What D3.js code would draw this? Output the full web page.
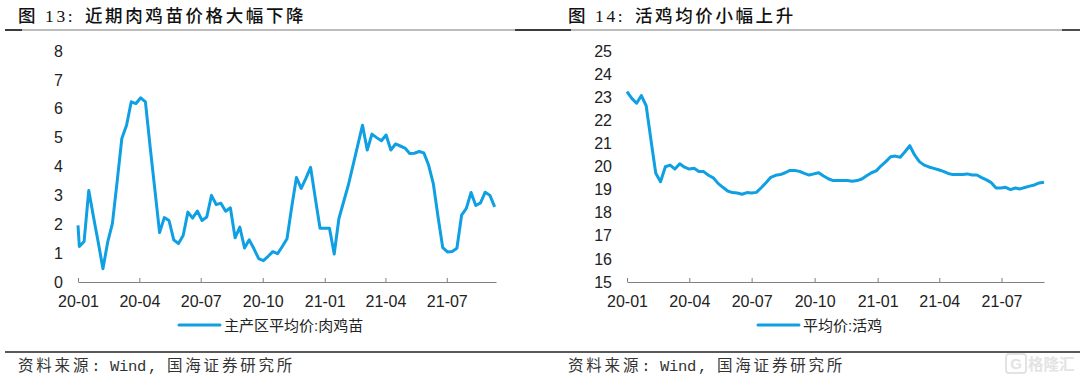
<!DOCTYPE html>
<html>
<head>
<meta charset="utf-8">
<script src="https://cdn.jsdelivr.net/npm/d3@7/dist/d3.min.js"></script>
<style>
  html, body { margin: 0; padding: 0; background: #fff; }
  svg { display: block; }
  .num { font-family: "Liberation Sans", Arial, sans-serif; font-size: 16px; fill: #222; }
  .legend { font-family: "Liberation Sans", "Noto Sans CJK SC", sans-serif; font-size: 15px; fill: #222; }
  .head { font-family: "Liberation Serif", "Noto Sans CJK SC", serif; font-size: 17.5px; font-weight: 500; letter-spacing: 2.6px; fill: #111; }
  .note { font-family: "Liberation Mono", "Noto Sans CJK SC", monospace; font-size: 15.5px; letter-spacing: 2.8px; fill: #333; }
</style>
</head>
<body>
<svg id="chart" width="1080" height="378"></svg>
<script>
const quarterTicks = ["2020-01-01", "2020-04-01", "2020-07-01", "2020-10-01", "2021-01-01", "2021-04-01", "2021-07-01"];

const chickTicks = [0, 1, 2, 3, 4, 5, 6, 7, 8];
const chickValues = [1.96,
  1.23, 1.40, 3.17, 2.25, 1.38, 0.46, 1.38, 2.02, 3.47, 4.97,
  5.43, 6.24, 6.18, 6.38, 6.24, 4.68, 3.20, 1.71, 2.23, 2.13,
  1.46, 1.33, 1.61, 2.42, 2.21, 2.46, 2.13, 2.25, 3.00, 2.68,
  2.73, 2.45, 2.57, 1.53, 1.90, 1.18, 1.46, 1.15, 0.81, 0.74,
  0.89, 1.05, 0.98, 1.23, 1.50, 2.60, 3.62, 3.24, 3.59, 3.97,
  2.90, 1.86, 1.86, 1.86, 0.97, 2.20, 2.78, 3.36, 4.05, 4.74,
  5.43, 4.57, 5.12, 5.00, 4.89, 5.09, 4.57, 4.78, 4.71, 4.64,
  4.45, 4.46, 4.52, 4.47, 4.05, 3.41, 2.26, 1.19, 1.04, 1.06,
  1.17, 2.32, 2.55, 3.10, 2.65, 2.74, 3.11, 3.00, 2.60];

const broilerTicks = [15, 16, 17, 18, 19, 20, 21, 22, 23, 24, 25];
const broilerValues = [
  23.24, 22.95, 22.74, 23.07, 22.63, 21.15, 19.71, 19.34, 19.99, 20.06,
  19.89, 20.12, 19.97, 19.89, 19.92, 19.78, 19.78, 19.62, 19.51, 19.27,
  19.10, 18.94, 18.87, 18.85, 18.80, 18.87, 18.85, 18.88, 19.08, 19.30,
  19.53, 19.62, 19.65, 19.73, 19.83, 19.83, 19.79, 19.70, 19.63, 19.68,
  19.73, 19.59, 19.47, 19.39, 19.39, 19.39, 19.39, 19.36, 19.39, 19.46,
  19.60, 19.73, 19.81, 20.03, 20.21, 20.42, 20.45, 20.40, 20.64, 20.90,
  20.50, 20.21, 20.06, 19.98, 19.92, 19.86, 19.79, 19.70, 19.65, 19.65,
  19.65, 19.68, 19.63, 19.63, 19.52, 19.42, 19.30, 19.07, 19.07, 19.10,
  19.00, 19.07, 19.03, 19.09, 19.15, 19.20, 19.29, 19.32];

const parseDay = d3.timeParse("%Y-%m-%d");
const lineColor = "#0f9fe3";
const svg = d3.select("#chart");

// weekly observations, left series has one extra point on the first day
const chickDates = [parseDay("2020-01-01")].concat(
  chickValues.slice(1).map((d, i) => d3.timeDay.offset(parseDay("2020-01-03"), i * 7)));
const broilerDates = broilerValues.map((d, i) => d3.timeDay.offset(parseDay("2020-01-01"), i * 7));

function drawPanel(cfg) {
  const x = d3.scaleTime().domain([parseDay("2020-01-01"), parseDay(cfg.end)]).range(cfg.xRange);
  const y = d3.scaleLinear().domain(d3.extent(cfg.ticks)).range([282, 51]);

  svg.append("g")
    .attr("transform", `translate(${cfg.xRange[0]},0)`)
    .call(d3.axisLeft(y).tickValues(cfg.ticks).tickSize(0).tickPadding(15))
    .call(g => g.select(".domain").remove())
    .selectAll("text").attr("class", "num").attr("fill", null);

  const xAxis = svg.append("g")
    .attr("transform", "translate(0,282)")
    .call(d3.axisBottom(x)
      .tickValues(quarterTicks.map(parseDay))
      .tickFormat(d3.timeFormat("%y-%m"))
      .tickSizeInner(-4).tickSizeOuter(0).tickPadding(14));
  xAxis.selectAll("path,line").attr("stroke", "#808080");
  xAxis.selectAll("text").attr("class", "num").attr("fill", null);

  const line = d3.line()
    .x((d, i) => x(cfg.dates[i]))
    .y(d => y(d));
  svg.append("path")
    .datum(cfg.values)
    .attr("fill", "none")
    .attr("stroke", lineColor)
    .attr("stroke-width", 3)
    .attr("stroke-linejoin", "round")
    .attr("d", line);

  // legend
  svg.append("line")
    .attr("x1", cfg.legendX).attr("x2", cfg.legendX + 41)
    .attr("y1", 325).attr("y2", 325)
    .attr("stroke", lineColor).attr("stroke-width", 3).attr("stroke-linecap", "round");
  svg.append("text").attr("class", "legend")
    .attr("x", cfg.legendX + 45).attr("y", 330.5)
    .text(cfg.legend);

  const head = svg.append("text").attr("class", "head").attr("y", 22);
  head.append("tspan").attr("x", cfg.titleX).text(cfg.figure);
  head.append("tspan").attr("x", cfg.titleX + 67).text(cfg.title);

  // source line is pieced together so the latin part keeps its own spacing
  const note = svg.append("text").attr("class", "note").attr("y", 371);
  note.append("tspan").attr("x", cfg.titleX).text("资料来源:");
  note.append("tspan").attr("x", cfg.titleX + 92).style("letter-spacing", "-0.3px").text("Wind");
  note.append("tspan").attr("x", cfg.titleX + 130).text(",");
  note.append("tspan").attr("x", cfg.titleX + 149).text("国海证券研究所");
}

drawPanel({
  xRange: [78, 496], end: "2021-09-12", ticks: chickTicks,
  values: chickValues, dates: chickDates,
  legend: "主产区平均价:肉鸡苗", legendX: 179,
  figure: "图 13:", title: "近期肉鸡苗价格大幅下降", titleX: 18
});
drawPanel({
  xRange: [627, 1044], end: "2021-09-01", ticks: broilerTicks,
  values: broilerValues, dates: broilerDates,
  legend: "平均价:活鸡", legendX: 758,
  figure: "图 14:", title: "活鸡均价小幅上升", titleX: 568
});

// header and footer rules
svg.append("line").attr("x1", 5).attr("x2", 1062).attr("y1", 30).attr("y2", 30)
  .attr("stroke", "#a6a6a6").attr("stroke-width", 1.5);
[[5, 22], [515, 571], [1062, 1080]].forEach(s => {
  svg.append("line").attr("x1", s[0]).attr("x2", s[1]).attr("y1", 30).attr("y2", 30)
    .attr("stroke", "#111").attr("stroke-width", 1.5);
});
svg.append("line").attr("x1", 5).attr("x2", 1080).attr("y1", 352).attr("y2", 352)
  .attr("stroke", "#222").attr("stroke-width", 1.5);

// watermark
const mark = svg.append("g").attr("fill", "none").attr("stroke", "#e3e3e3").attr("stroke-width", 2);
mark.append("rect").attr("x", 1006).attr("y", 354).attr("width", 20).attr("height", 19).attr("rx", 3);
svg.append("text").attr("x", 1016).attr("y", 369).attr("text-anchor", "middle")
  .attr("font-family", "Liberation Sans").attr("font-size", 15).attr("font-weight", "bold").attr("fill", "#e3e3e3").text("G");
svg.append("text").attr("x", 1028).attr("y", 370)
  .attr("font-family", "Noto Sans CJK SC").attr("font-size", 15.5).attr("font-weight", "bold").attr("fill", "#e3e3e3").text("格隆汇");
</script>
</body>
</html>
